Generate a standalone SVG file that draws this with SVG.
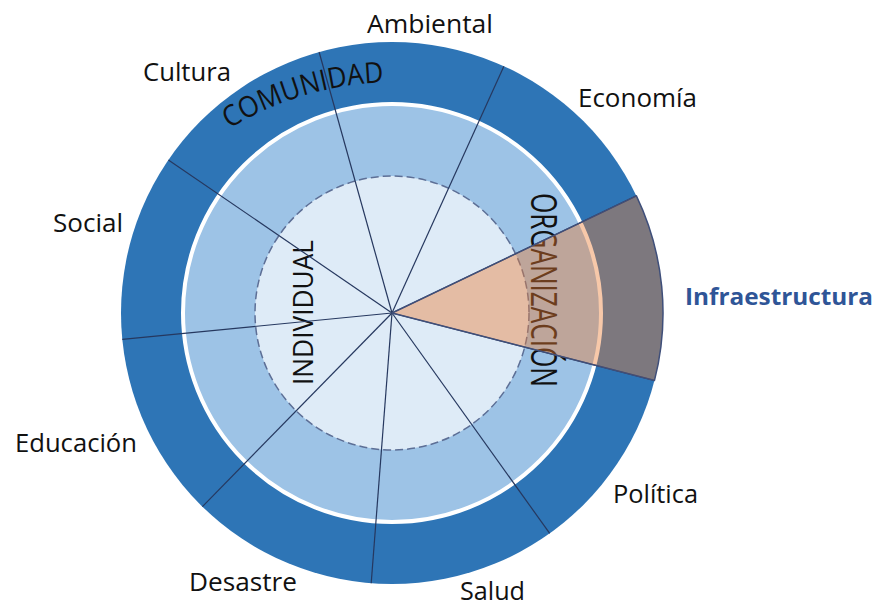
<svg xmlns="http://www.w3.org/2000/svg" width="878" height="606" viewBox="0 0 878 606">
<defs>
<style>
.lbl{font-family:"Open Sans","Liberation Sans",sans-serif;font-size:25px;fill:#111;}
.ring{font-family:"Open Sans","Liberation Sans",sans-serif;fill:#111;}
.spoke{stroke:#26385f;stroke-width:1.2;fill:none;}
</style>
<path id="arcCom" d="M150.9,196.3 A320,320 0 0 1 556,124.9"/>
</defs>
<rect width="878" height="606" fill="#fff"/>
<g id="rings">
<circle cx="392" cy="313" r="271" fill="#2E75B6"/>
<circle cx="392" cy="313" r="209" fill="#9DC3E6" stroke="#fff" stroke-width="4"/>
<circle cx="392" cy="313" r="137" fill="#DEEBF7" stroke="#5d6f96" stroke-width="1.5" stroke-dasharray="8 4"/>
</g>
<g id="ring-labels">
<text class="ring" font-size="29"><textPath href="#arcCom" startOffset="104" textLength="163" lengthAdjust="spacingAndGlyphs">COMUNIDAD</textPath></text>
<text class="ring" font-size="28" transform="translate(313,385) rotate(-90)" textLength="145" lengthAdjust="spacingAndGlyphs">INDIVIDUAL</text>
<text class="ring" font-size="37" transform="translate(531,193) rotate(90)" textLength="194" lengthAdjust="spacingAndGlyphs">ORGANIZACIÓN</text>
</g>
<g id="connectors">
<line class="spoke" x1="392" y1="313" x2="654.5" y2="380.4"/>
<line class="spoke" x1="392" y1="313" x2="549.7" y2="533.4"/>
<line class="spoke" x1="392" y1="313" x2="371.2" y2="583.2"/>
<line class="spoke" x1="392" y1="313" x2="202.4" y2="506.6"/>
<line class="spoke" x1="392" y1="313" x2="122.3" y2="339.4"/>
<line class="spoke" x1="392" y1="313" x2="168.4" y2="159.9"/>
<line class="spoke" x1="392" y1="313" x2="319.1" y2="52.0"/>
<line class="spoke" x1="392" y1="313" x2="503.9" y2="66.2"/>
<line class="spoke" x1="392" y1="313" x2="636.4" y2="195.9"/>
</g>
<g id="infraestructura-sector">
<path d="M392,313 L636.4,195.9 A271,271 0 0 1 654.5,380.4 Z" fill="#ED7D31" fill-opacity="0.42" stroke="#3f4f7a" stroke-width="1.5" stroke-linejoin="round"/>
</g>
<g id="labels">
<text id="ambiental" class="lbl" x="367" y="33" textLength="126" lengthAdjust="spacingAndGlyphs">Ambiental</text>
<text id="economia" class="lbl" x="578" y="107" textLength="119" lengthAdjust="spacingAndGlyphs">Economía</text>
<text id="infraestructura" x="685" y="305" font-family="'Open Sans','Liberation Sans',sans-serif" font-size="24" font-weight="bold" fill="#2F5597" textLength="188" lengthAdjust="spacingAndGlyphs">Infraestructura</text>
<text id="politica" class="lbl" x="613" y="503" textLength="85" lengthAdjust="spacingAndGlyphs">Política</text>
<text id="salud" class="lbl" x="460" y="600" textLength="65" lengthAdjust="spacingAndGlyphs">Salud</text>
<text id="desastre" class="lbl" x="189" y="591" textLength="108" lengthAdjust="spacingAndGlyphs">Desastre</text>
<text id="educacion" class="lbl" x="15" y="452" textLength="122" lengthAdjust="spacingAndGlyphs">Educación</text>
<text id="social" class="lbl" x="53" y="232" textLength="70" lengthAdjust="spacingAndGlyphs">Social</text>
<text id="cultura" class="lbl" x="143" y="81" textLength="88" lengthAdjust="spacingAndGlyphs">Cultura</text>
</g>
</svg>
